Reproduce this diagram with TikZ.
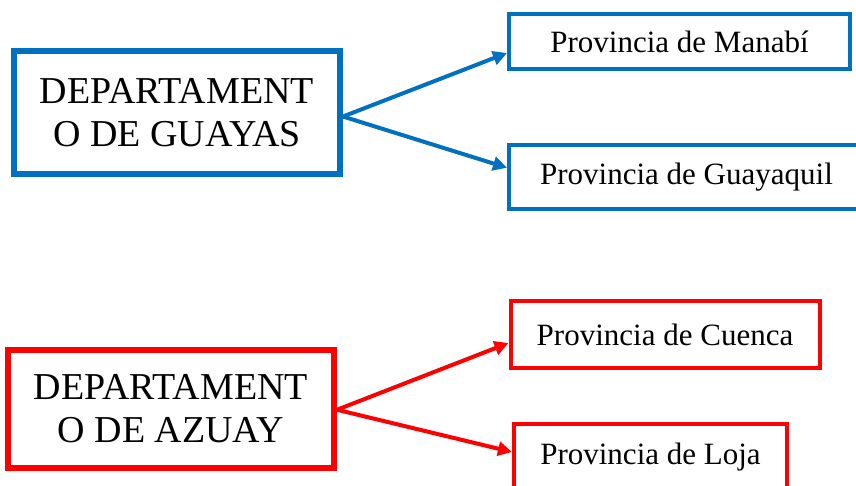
\documentclass[tikz,border=0pt]{standalone}
\usepackage{fontspec}
\setmainfont{Liberation Serif}
\usetikzlibrary{arrows.meta}
\definecolor{guayasblue}{HTML}{0070C0}
\definecolor{azuayred}{HTML}{FF0000}

\begin{document}
\begin{tikzpicture}[x=1pt,y=-1pt,
        depto/.style={draw=#1,line width=6pt,inner sep=0pt,text=black,align=center,
            font=\fontsize{38}{43}\selectfont},
        prov/.style={draw=#1,line width=4pt,inner sep=0pt,text=black,
            font=\fontsize{31}{36}\selectfont},
        flecha/.style={#1,line width=4pt,-{Triangle[length=14pt,width=14pt]}}]
        \useasboundingbox (0,0) rectangle (856,485);

        % Guayas
        \node[depto=guayasblue,minimum width=326pt,minimum height=123pt] (guayas) at (177,112.5) {DEPARTAMENT\\O DE GUAYAS};
        \node[prov=guayasblue,minimum width=341pt,minimum height=55pt] (manabi) at (679.5,41.5) {Provincia de Manab\'i};
        \node[prov=guayasblue,minimum width=355pt,minimum height=64.5pt] (guayaquil) at (686.5,176.75) {Provincia de Guayaquil};

        \draw[flecha=guayasblue] ([yshift=-4pt]guayas.east) -- ([yshift=-11.5pt]manabi.west);
        \draw[flecha=guayasblue] ([yshift=-4pt]guayas.east) -- ([yshift=9pt]guayaquil.west);

        % Azuay
        \node[depto=azuayred,minimum width=326pt,minimum height=117.5pt] (azuay) at (171,408.75) {DEPARTAMENT\\O DE AZUAY};
        \node[prov=azuayred,minimum width=309pt,minimum height=67pt] (cuenca) at (665,334.5) {Provincia de Cuenca};
        \node[prov=azuayred,minimum width=273pt,minimum height=66pt] (loja) at (650.5,457) {Provincia de Loja};

        \draw[flecha=azuayred] ([yshift=-1pt]azuay.east) -- ([yshift=-8.5pt]cuenca.west);
        \draw[flecha=azuayred] ([yshift=-1pt]azuay.east) -- ([yshift=5pt]loja.west);
    \end{tikzpicture}
\end{document}
